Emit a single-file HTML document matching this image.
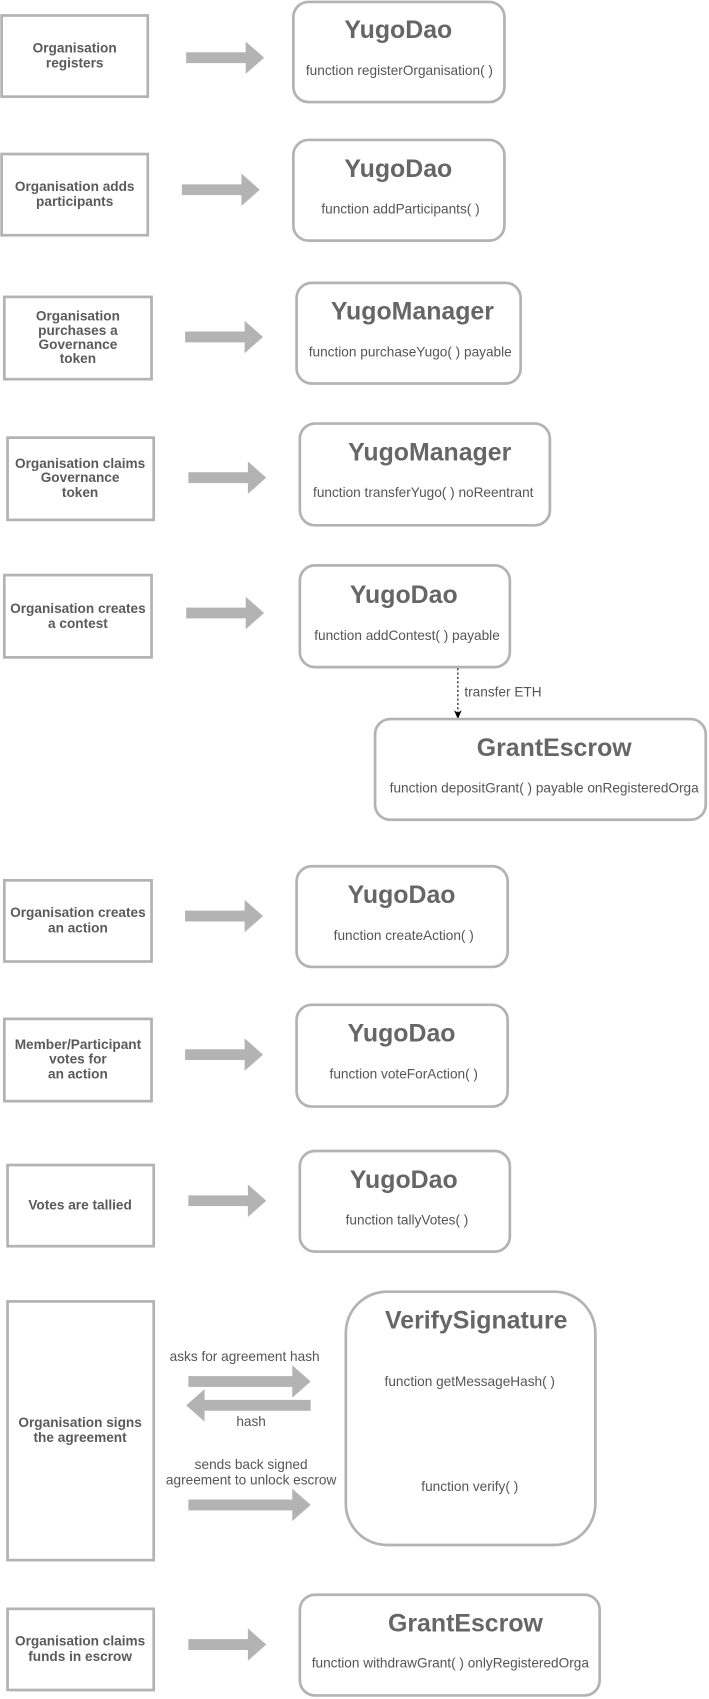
<!DOCTYPE html>
<html><head><meta charset="utf-8"><style>
html,body{margin:0;padding:0;background:#fff;width:709px;height:1699px;overflow:hidden}
svg{display:block}
.b{fill:#fff;stroke:#b3b3b3;stroke-width:2.5}
.l{font-family:"Liberation Sans",sans-serif;font-weight:bold;font-size:12.6px;fill:#5a5a5a;text-anchor:middle}
.t{font-family:"Liberation Sans",sans-serif;font-weight:bold;font-size:23px;fill:#666;text-anchor:middle}
.f{font-family:"Liberation Sans",sans-serif;font-size:12.6px;fill:#555;text-anchor:middle}
.a{fill:#b3b3b3}
</style></head><body>
<svg width="709" height="1699" viewBox="0 0 655 1569" xmlns="http://www.w3.org/2000/svg">
<defs>
<path id="ar" d="M0,-5 H55 V-15 L72,0 L55,15 V5 H0 Z"/>
</defs>

<!-- Row 1 -->
<rect class="b" x="1.5" y="14" width="135" height="75"/>
<text class="l" x="69" y="48">Organisation</text><text class="l" x="69" y="62">registers</text>
<use href="#ar" class="a" x="172" y="53"/>
<rect class="b" x="271" y="1.5" width="195" height="92.5" rx="14"/>
<text class="t" x="368" y="35">YugoDao</text>
<text class="f" x="369" y="69">function registerOrganisation( )</text>

<!-- Row 2 -->
<rect class="b" x="1.5" y="142" width="135" height="75"/>
<text class="l" x="69" y="176">Organisation adds</text><text class="l" x="69" y="190">participants</text>
<use href="#ar" class="a" x="168" y="175"/>
<rect class="b" x="271" y="129" width="195" height="93" rx="14"/>
<text class="t" x="368" y="163">YugoDao</text>
<text class="f" x="370" y="197">function addParticipants( )</text>

<!-- Row 3 -->
<rect class="b" x="4" y="274" width="136" height="76"/>
<text class="l" x="72" y="296">Organisation</text><text class="l" x="72" y="309">purchases a</text><text class="l" x="72" y="322">Governance</text><text class="l" x="72" y="335">token</text>
<use href="#ar" class="a" x="171" y="311"/>
<rect class="b" x="274" y="261" width="207" height="93" rx="14"/>
<text class="t" x="381" y="295">YugoManager</text>
<text class="f" x="379" y="329">function purchaseYugo( ) payable</text>

<!-- Row 4 -->
<rect class="b" x="7" y="404" width="135" height="76"/>
<text class="l" x="74" y="432">Organisation claims</text><text class="l" x="74" y="445">Governance</text><text class="l" x="74" y="459">token</text>
<use href="#ar" class="a" x="174" y="441"/>
<rect class="b" x="277" y="391" width="231" height="94" rx="14"/>
<text class="t" x="397" y="425">YugoManager</text>
<text class="f" x="391" y="459">function transferYugo( ) noReentrant</text>

<!-- Row 5 -->
<rect class="b" x="4" y="531" width="136" height="76"/>
<text class="l" x="72" y="566">Organisation creates</text><text class="l" x="72" y="580">a contest</text>
<use href="#ar" class="a" x="172" y="566"/>
<rect class="b" x="277" y="522" width="194" height="94" rx="14"/>
<text class="t" x="373" y="557">YugoDao</text>
<text class="f" x="376" y="591">function addContest( ) payable</text>
<line x1="423" y1="617" x2="423" y2="658" stroke="#000" stroke-width="1" stroke-dasharray="2,2"/>
<path d="M419.5,656 L423,664 L426.5,656 L423,658 Z" fill="#000"/>
<text class="f" x="429" y="643" style="text-anchor:start">transfer ETH</text>
<rect class="b" x="346.5" y="664" width="305.5" height="93" rx="14"/>
<text class="t" x="512" y="698">GrantEscrow</text>
<text class="f" x="360" y="732" style="text-anchor:start">function depositGrant( ) payable onRegisteredOrga</text>

<!-- Row 6 -->
<rect class="b" x="4" y="813" width="136" height="75"/>
<text class="l" x="72" y="847">Organisation creates</text><text class="l" x="72" y="861">an action</text>
<use href="#ar" class="a" x="171" y="846"/>
<rect class="b" x="274" y="800" width="195" height="93" rx="14"/>
<text class="t" x="371" y="834">YugoDao</text>
<text class="f" x="373" y="868">function createAction( )</text>

<!-- Row 7 -->
<rect class="b" x="4" y="941" width="136" height="76"/>
<text class="l" x="72" y="969">Member/Participant</text><text class="l" x="72" y="982">votes for</text><text class="l" x="72" y="996">an action</text>
<use href="#ar" class="a" x="171" y="974"/>
<rect class="b" x="274" y="928" width="195" height="94" rx="14"/>
<text class="t" x="371" y="962">YugoDao</text>
<text class="f" x="373" y="996">function voteForAction( )</text>

<!-- Row 8 -->
<rect class="b" x="7" y="1076" width="135" height="75"/>
<text class="l" x="74" y="1117">Votes are tallied</text>
<use href="#ar" class="a" x="174" y="1109"/>
<rect class="b" x="277" y="1063" width="194" height="93" rx="14"/>
<text class="t" x="373" y="1097">YugoDao</text>
<text class="f" x="376" y="1131">function tallyVotes( )</text>

<!-- Row 9 -->
<rect class="b" x="7" y="1202" width="135" height="239"/>
<text class="l" x="74" y="1318">Organisation signs</text><text class="l" x="74" y="1332">the agreement</text>
<rect class="b" x="319.5" y="1193" width="230.5" height="234" rx="38"/>
<text class="t" x="440" y="1227">VerifySignature</text>
<text class="f" x="434" y="1280">function getMessageHash( )</text>
<text class="f" x="434" y="1377">function verify( )</text>
<text class="f" x="226" y="1257">asks for agreement hash</text>
<path class="a" d="M174,1271 H270 V1261 L287,1276 L270,1291 V1281 H174 Z"/>
<path class="a" d="M287,1293 H189 V1283 L172,1298 L189,1313 V1303 H287 Z"/>
<text class="f" x="232" y="1317">hash</text>
<text class="f" x="232" y="1357">sends back signed</text>
<text class="f" x="232" y="1371">agreement to unlock escrow</text>
<path class="a" d="M174,1385 H270 V1375 L287,1390 L270,1405 V1395 H174 Z"/>

<!-- Row 10 -->
<rect class="b" x="7" y="1486" width="135" height="75"/>
<text class="l" x="74" y="1520">Organisation claims</text><text class="l" x="74" y="1534">funds in escrow</text>
<use href="#ar" class="a" x="174" y="1519"/>
<rect class="b" x="277" y="1473" width="277" height="93" rx="14"/>
<text class="t" x="430" y="1507">GrantEscrow</text>
<text class="f" x="288" y="1540" style="text-anchor:start">function withdrawGrant( ) onlyRegisteredOrga</text>
</svg>
</body></html>
